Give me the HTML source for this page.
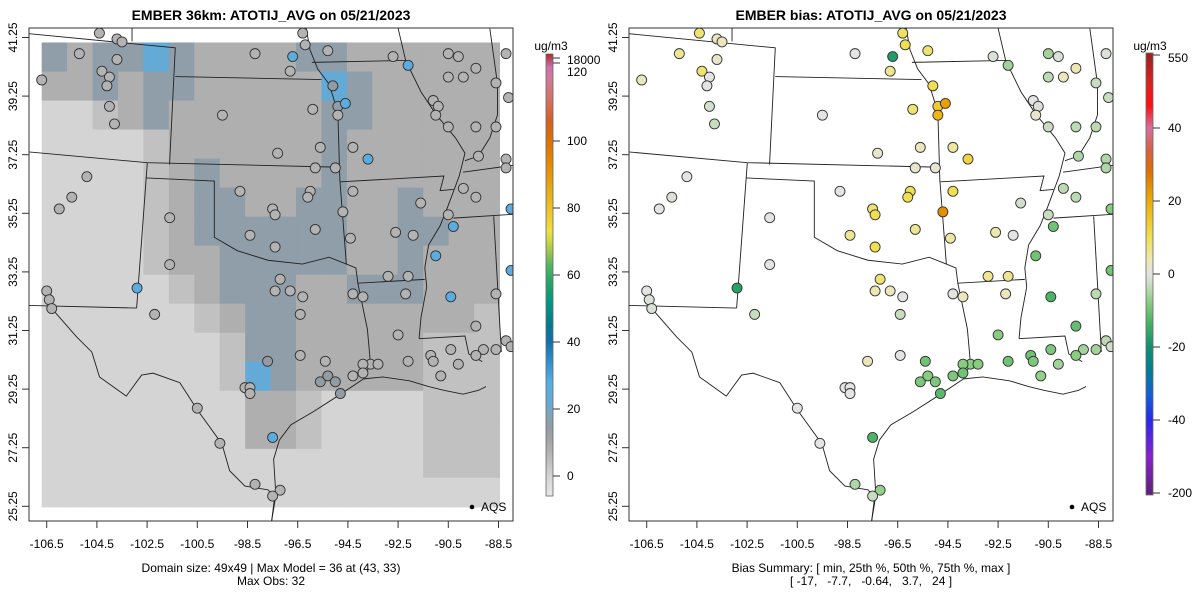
<!DOCTYPE html>
<html><head><meta charset="utf-8"><style>
html,body{margin:0;padding:0;background:#fff;}
svg{display:block;font-family:"Liberation Sans",Arial,sans-serif;}
</style></head><body>
<svg id="chart" width="1200" height="600" viewBox="0 0 1200 600">
<defs>
<linearGradient id="gradL" x1="0" y1="1" x2="0" y2="0"></linearGradient>
<linearGradient id="gradR" x1="0" y1="1" x2="0" y2="0"></linearGradient>
<clipPath id="clipL"><rect x="29" y="28" width="484" height="493"/></clipPath>
<clipPath id="clipR"><rect x="629" y="28" width="484" height="493"/></clipPath>
<g id="borders" fill="none" stroke="#222" stroke-width="2.4">
<polyline points="75,88 458,125 443,430"/>
<polyline points="345,73 345,108"/>
<polyline points="458,200 840,208"/>
<polyline points="800,73 810,130 830,180 860,220 885,300"/>
<polyline points="883,300 888,470 905,690"/>
<polyline points="815,163 1060,158"/>
<polyline points="1040,73 1060,158 1100,240 1140,300 1190,360 1215,400 1200,460 1170,540 1150,590 1120,640 1110,700 1115,750 1100,830 1095,885"/>
<polyline points="75,397 385,425 890,437"/>
<polyline points="890,475 1160,460 1150,498 1185,495"/>
<polyline points="385,425 382,465 357,805"/>
<polyline points="382,465 560,473 560,620 620,655 700,680 790,690 860,672 905,690 930,700 935,740 1110,730"/>
<polyline points="935,740 960,860 968,950 950,990"/>
<polyline points="75,798 357,805"/>
<polyline points="130,800 200,880 240,920 260,985 330,1035 370,980 400,975 470,1000 515,1070 580,1160 600,1230 640,1270 700,1280 720,1300 710,1360"/>
<polyline points="950,990 1000,985 1070,995 1120,1010 1160,1020 1210,1030 1250,1020 1270,1010"/>
<polyline points="950,990 890,1030 820,1075 760,1110 730,1150 715,1200 720,1280 710,1360"/>
<polyline points="1095,885 1215,878 1225,925 1260,945"/>
<polyline points="1290,565 1310,920"/>
<polyline points="1185,570 1340,560"/>
<polyline points="1210,450 1340,432"/>
<polyline points="1280,75 1300,220 1300,300 1280,360 1250,408 1215,420"/>
</g>
</defs>
<g id="layer"></g>
</svg>
<script>
// ---- data ----
const modelRows = [
"BDBBCBDDDDBBDDDDDD",
"DDBDBBDDDDDCBDDDDD",
"LLGDBDDDDDDBBDDDDD",
"LLLLGDDDDDDBDDDDDD",
"LLLLGDBDDDDBDDDDDD",
"LLLLGDBBDDBBDDBDDD",
"LLLLGDBBBBBBDDBBDD",
"LLLLGDDBBBBBDDBDDD",
"LLLLLGDBBBDDBBBDDD",
"LLLLLLGDBBDDDDDDDG",
"LLLLLLLGBBDDDDDGGG",
"LLLLLLLGCBDDDDDGGG",
"LLLLLLLLDDGLLLLGGG",
"LLLLLLLLDDGLLLLGGG",
"LLLLLLLLLLLLLLLGGG",
"LLLLLLLLLLLLLLLLLL"];
const modelLevels = {L:0,G:4,D:8,B:15,C:22};
const stLon = [-104.4,-103.7,-103.5,-105.2,-103.7,-104.3,-104.0,-104.1,-106.7,-104.0,-103.8,-98.2,-96.7,-96.8,-96.2,-95.3,-96.3,-95.1,-94.9,-94.6,-95.9,-94.9,-99.5,-92.7,-92.1,-90.5,-90.1,-89.4,-90.5,-89.9,-91.1,-90.9,-91.0,-90.5,-89.4,-88.6,-88.2,-88.1,-88.6,-89.3,-88.2,-88.2,-95.6,-94.3,-93.7,-97.3,-95.8,-95.0,-104.9,-105.5,-106.0,-98.8,-96.0,-96.1,-94.3,-97.5,-97.4,-101.6,-94.7,-95.8,-94.4,-98.4,-97.4,-89.9,-89.4,-91.6,-90.5,-90.3,-92.6,-91.9,-88.0,-101.6,-97.2,-97.4,-96.8,-96.3,-96.4,-94.3,-93.9,-92.9,-92.1,-92.2,-91.0,-90.4,-88.6,-88.0,-102.9,-106.5,-106.4,-106.3,-102.2,-89.4,-92.5,-88.2,-88.0,-96.4,-95.4,-97.7,-93.6,-93.3,-93.9,-92.1,-91.2,-91.1,-90.4,-90.1,-89.1,-88.6,-89.4,-90.8,-94.3,-93.9,-95.6,-95.3,-95.0,-94.8,-98.6,-98.4,-98.4,-100.5,-97.5,-99.6,-98.2,-97.2,-97.5];
const stLat = [41.4,41.2,41.1,40.7,40.5,40.1,39.9,39.6,39.8,38.9,38.3,40.7,40.6,40.1,41.0,40.8,41.4,39.6,38.9,39.0,38.8,38.6,38.6,40.6,40.3,40.7,40.6,40.2,39.9,39.9,39.1,38.9,38.6,38.2,38.2,39.7,40.7,39.2,38.2,37.2,37.1,36.8,37.5,37.5,37.1,37.3,36.8,36.8,36.5,35.8,35.4,36.0,36.0,35.8,36.0,35.4,35.2,35.1,35.3,34.7,34.4,34.5,34.1,36.1,35.8,35.6,35.2,34.8,34.6,34.5,35.4,33.5,33.0,32.6,32.6,32.4,31.8,32.5,32.4,33.1,33.1,32.5,33.8,32.4,32.5,33.3,32.7,32.6,32.3,32.0,31.8,31.4,31.1,30.9,30.7,30.4,30.2,30.2,30.1,30.1,30.1,30.2,30.4,30.2,30.6,30.1,30.6,30.6,30.4,29.7,29.7,29.8,29.5,29.7,29.5,29.1,29.3,29.3,29.1,28.6,27.6,27.4,26.0,25.8,25.6];
const stObs = [7,7,7,7,7,7,7,7,7,7,7,7,25,7,7,7,7,14,14,25,7,7,7,7,25,7,7,7,7,7,7,7,7,7,7,7,7,7,7,7,7,7,7,7,25,7,7,7,7,7,7,7,7,7,7,7,7,7,7,7,7,7,7,7,7,7,7,25,7,7,25,7,7,7,7,7,7,7,7,7,7,7,25,25,7,25,25,7,7,7,7,7,7,7,7,7,7,14,7,7,7,7,7,7,7,7,7,7,7,7,7,7,14,14,14,14,7,7,7,7,25,7,7,7,7];
const stBias = [8,3,3,6,2,8,0,0,3,-2,-3,0,-18,6,10,8,9,10,14,22,8,18,0,-1,-6,-6,-1,4,-4,3,0,-1,2,-3,-4,-3,-1,-3,-4,-5,-5,-5,3,5,12,2,2,1,0,-1,0,0,10,10,10,8,10,0,24,6,5,6,10,-4,-4,-2,-3,-10,4,0,-8,0,8,4,3,0,-3,0,3,6,6,3,-10,-13,-4,-10,-17,0,-1,-1,-3,-11,-8,-4,-2,0,-10,3,-8,-8,-8,-10,-10,-9,-9,-6,-6,-6,-8,-7,-9,-10,-9,-8,-9,-12,0,0,0,0,-13,0,-5,-7,-3];
const lonTicks = [-106.5,-104.5,-102.5,-100.5,-98.5,-96.5,-94.5,-92.5,-90.5,-88.5];
const latTicks = [25.25,27.25,29.25,31.25,33.25,35.25,37.25,39.25,41.25];
const cbLeftTicks = [0,20,40,60,80,100];
const cbRightTicks = [-40,-20,0,20,40];
const leftStopsV = [-6,0,5,10,14,18,22,28,34,40,45,52,58,63,66,70,73,78,86,93,100,106,112,118,122,130];
const leftStopsC = ["#e6e6e6","#d4d4d4","#bcbcbc","#a6a6a6","#949ca3","#80a4ba","#64aad6","#52b0e8","#2c90d0","#1070b0","#007a92","#009880","#22a868","#52b860","#90c050","#c8d840","#f0e040","#f0c828","#e8a810","#e88a00","#e07000","#d86020","#d87060","#d47890","#d070b0","#b02828"];
const rightStopsV = [-60,-50,-40,-33,-26,-20,-14,-8,-3,0,4,10,16,22,28,34,40,46,52,60];
const rightStopsC = ["#602080","#8a20d0","#2828f0","#1060d8","#008090","#109070","#40b060","#88cc80","#c8dcc0","#e4e4e4","#ece8b0","#f0e050","#f0c020","#e8a000","#e07000","#d86040","#d870a0","#ff1010","#e02020","#a02020"];

const NS = "http://www.w3.org/2000/svg";
const layer = document.getElementById('layer');
function mk(tag, attrs, parent){const e=document.createElementNS(NS,tag);for(const k in attrs)e.setAttribute(k,attrs[k]);(parent||layer).appendChild(e);return e;}
function hex(c){return [parseInt(c.substr(1,2),16),parseInt(c.substr(3,2),16),parseInt(c.substr(5,2),16)];}
function interp(v,vs,cs){if(v<=vs[0])return cs[0];if(v>=vs[vs.length-1])return cs[cs.length-1];
 for(let i=0;i<vs.length-1;i++){if(v<=vs[i+1]){const t=(v-vs[i])/(vs[i+1]-vs[i]);const a=hex(cs[i]),b=hex(cs[i+1]);
 return "rgb("+a.map((x,j)=>Math.round(x+(b[j]-x)*t)).join(",")+")";}}}
const x0 = lon => 46.7 + (lon + 106.5) * 25.1;
const yL = lat => 37.5 + (41.25 - lat) * 29.3;

function panel(off, isLeft){
  const g = mk('g',{'clip-path': isLeft?'url(#clipL)':'url(#clipR)'});
  
  
  if(isLeft){
    const lon0=-106.7, lon1=-88.46, lat0=41.08, lat1=25.23;
    const nc=modelRows[0].length, nr=modelRows.length;
    const dl=(lon1-lon0)/nc, dt=(lat0-lat1)/nr;
    modelRows.forEach((row,r)=>{[...row].forEach((ch,c)=>{
      const xa=x0(lon0+c*dl)+off, xb=x0(lon0+(c+1)*dl)+off, ya=yL(lat0-r*dt), yb=yL(lat0-(r+1)*dt);
      const cell=mk('rect',{x:xa,y:ya,width:xb-xa+0.5,height:yb-ya+0.5,fill:interp(modelLevels[ch],leftStopsV,leftStopsC)},g);
      
      
    });});
  }
  const b = mk('use',{href:'#borders',transform:'translate('+off+',0) scale(0.3827)'},g);
  
  
  stLon.forEach((lon,i)=>{
    const v = isLeft?stObs[i]:stBias[i];
    const col = isLeft?interp(v,leftStopsV,leftStopsC):interp(v,rightStopsV,rightStopsC);
    const c=mk('circle',{cx:x0(lon)+off,cy:yL(stLat[i]),r:5,fill:col,stroke:'#333','stroke-width':0.9},g);
    
    
  });
  const box=mk('rect',{x:29+off,y:28,width:484,height:493,fill:'none',stroke:'#333','stroke-width':1});
  
  
  lonTicks.forEach(t=>{
    const x=x0(t)+off;
    mk('line',{x1:x,x2:x,y1:521,y2:528,stroke:'#333'});
    const tx=mk('text',{x:x,y:548,'font-size':12,'text-anchor':'middle',fill:'#000'});tx.textContent=t.toFixed(1);
    
    
  });
  latTicks.forEach(t=>{
    const y=yL(t);
    mk('line',{x1:22+off,x2:29+off,y1:y,y2:y,stroke:'#333'});
    const tx=mk('text',{x:0,y:0,'font-size':12,'text-anchor':'middle',fill:'#000',transform:'translate('+(17+off)+','+y+') rotate(-90)'});tx.textContent=t.toFixed(2);
    
    
  });
  mk('circle',{cx:472+off,cy:507,r:2.3,fill:'#000'});
  const lg=mk('text',{x:481+off,y:511,'font-size':12,fill:'#000'});lg.textContent='AQS';
  
  
}
panel(0,true);
panel(600,false);

function txt(s,x,y,size,weight,name){const t=mk('text',{x:x,y:y,'font-size':size,'font-weight':weight||'normal','text-anchor':'middle',fill:'#000'});t.textContent=s;
 
 return t;}
txt('EMBER 36km: ATOTIJ_AVG on 05/21/2023',271,20,14,'bold','left-title');
txt('EMBER bias: ATOTIJ_AVG on 05/21/2023',871,20,14,'bold','right-title');
txt('Domain size: 49x49 | Max Model = 36 at (43, 33)',271,572,12,'normal','domain-caption');
txt('Max Obs: 32',271,585,12,'normal','max-obs-caption');
txt('Bias Summary: [ min, 25th %, 50th %, 75th %, max ]',871,572,12,'normal','bias-summary-caption');
const bs=txt('[ -17,   -7.7,   -0.64,   3.7,   24 ]',871,585,12,'normal','bias-summary-values');
bs.setAttribute('xml:space','preserve');bs.style.whiteSpace='pre';

function grad(id,vs,cs,vmin,vmax){const gr=document.getElementById(id);
 vs.forEach((v,i)=>{const s=document.createElementNS(NS,'stop');s.setAttribute('offset',Math.max(0,Math.min(1,(v-vmin)/(vmax-vmin))));s.setAttribute('stop-color',cs[i]);gr.appendChild(s);});}
grad('gradL',leftStopsV,leftStopsC,-6,(476-54)/3.35);
const cbl=mk('rect',{x:546,y:54,width:7,height:442,fill:'url(#gradL)',stroke:'#666','stroke-width':0.8});


const ycl=v=>476-v*3.35;
cbLeftTicks.forEach(v=>{mk('line',{x1:553,x2:560,y1:ycl(v),y2:ycl(v),stroke:'#333'});const t=mk('text',{x:567,y:ycl(v)+4,'font-size':12});t.textContent=v;
 
 });
mk('line',{x1:553,x2:560,y1:63,y2:63,stroke:'#333'});
let t1=mk('text',{x:567,y:76,'font-size':12});t1.textContent='120';
mk('line',{x1:553,x2:560,y1:58,y2:58,stroke:'#333'});
let t2=mk('text',{x:567,y:64,'font-size':12});t2.textContent='18000';
let u1=mk('text',{x:551,y:50,'font-size':12,'text-anchor':'middle'});u1.textContent='ug/m3';


const ycr=v=>274-v*3.65;
grad('gradR',rightStopsV,rightStopsC,(274-495)/3.65,(274-53)/3.65);
const cbr=mk('rect',{x:1146,y:53,width:7,height:442,fill:'url(#gradR)',stroke:'#666','stroke-width':0.8});


cbRightTicks.forEach(v=>{mk('line',{x1:1153,x2:1160,y1:ycr(v),y2:ycr(v),stroke:'#333'});const t=mk('text',{x:1168,y:ycr(v)+4,'font-size':12});t.textContent=v;
 
 });
mk('line',{x1:1153,x2:1160,y1:55,y2:55,stroke:'#333'});
let t3=mk('text',{x:1168,y:62,'font-size':12});t3.textContent='550';
mk('line',{x1:1153,x2:1160,y1:493,y2:493,stroke:'#333'});
let t4=mk('text',{x:1168,y:497,'font-size':12});t4.textContent='-200';
let u2=mk('text',{x:1150,y:50,'font-size':12,'text-anchor':'middle'});u2.textContent='ug/m3';


</script>
</body></html>
